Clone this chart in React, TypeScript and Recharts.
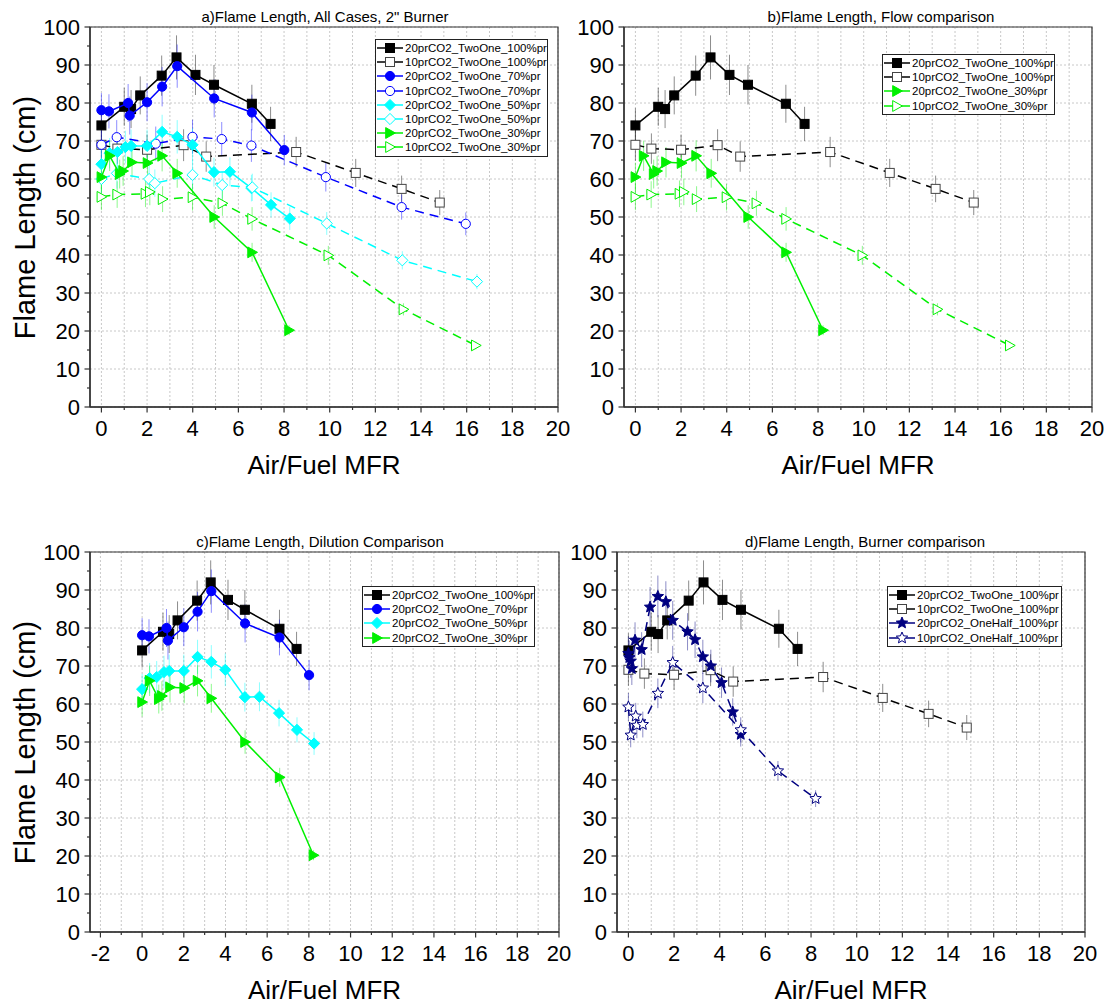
import React from "react";
import {
  ScatterChart,
  Scatter,
  XAxis,
  YAxis,
  CartesianGrid,
  ErrorBar,
  ReferenceArea,
} from "recharts";

const FONT = "Arial, 'Liberation Sans', Helvetica, sans-serif";
const AXIS = "#333333";

// tick values
const X_TICKS = [0, 1, 2, 3, 4, 5, 6, 7, 8, 9, 10, 11, 12, 13, 14, 15, 16, 17, 18, 19, 20];
const X_TICKS_C = [-2, -1, 0, 1, 2, 3, 4, 5, 6, 7, 8, 9, 10, 11, 12, 13, 14, 15, 16, 17, 18, 19, 20];
const Y_TICKS = [0, 5, 10, 15, 20, 25, 30, 35, 40, 45, 50, 55, 60, 65, 70, 75, 80, 85, 90, 95, 100];
const Y_GRID = [0, 10, 20, 30, 40, 50, 60, 70, 80, 90, 100];

// 20prCO2_TwoOne_100%pr
const x20_100 = [0, 1.0, 1.3, 1.7, 2.64, 3.29, 4.12, 4.93, 6.59, 7.41];
const y20_100 = [74.1, 79.0, 78.4, 82.0, 87.2, 92.0, 87.4, 84.8, 79.8, 74.5];
const e20_100 = [4.5, 5, 5, 5, 5.3, 5.8, 5.3, 5.2, 5, 4.5];

// 10prCO2_TwoOne_100%pr
const x10_100 = [0, 0.7, 2.0, 3.6, 4.59, 8.53, 11.14, 13.15, 14.82];
const y10_100 = [69.0, 68.0, 67.7, 68.9, 65.9, 67.1, 61.6, 57.4, 53.8];
const e10_100 = [4.2, 4, 4, 4.2, 4, 4, 3.7, 3.5, 3.3];

// 20prCO2_TwoOne_70%pr
const x20_70 = [0, 0.33, 1.17, 1.24, 2.0, 2.66, 3.32, 4.94, 6.59, 8.01];
const y20_70 = [78.1, 77.8, 80.0, 76.7, 80.2, 84.3, 89.7, 81.2, 77.5, 67.6];
const e20_70 = [4.5, 4.5, 5, 5, 5, 5.2, 5.7, 5, 4.7, 4];

// 10prCO2_TwoOne_70%pr
const x10_70 = [0, 0.67, 2.38, 3.99, 5.27, 6.57, 9.83, 13.15, 15.96];
const y10_70 = [69.0, 71.0, 69.3, 71.1, 70.5, 68.8, 60.5, 52.6, 48.2];
const e10_70 = [4, 4.5, 4.5, 4.5, 4.5, 4.3, 3.8, 3.3, 3];

// 20prCO2_TwoOne_50%pr
const x20_50 = [0, 0.36, 0.7, 1.05, 1.3, 2.0, 2.66, 3.32, 3.99, 4.93, 5.63, 6.57, 7.43, 8.25];
const y20_50 = [63.9, 66.8, 67.1, 68.4, 68.7, 68.7, 72.4, 71.1, 69.0, 61.8, 61.9, 57.6, 53.2, 49.6];
const e20_50 = [4, 4, 4.2, 4.3, 4.3, 4.3, 4.5, 4.4, 4.3, 3.8, 3.8, 3.5, 3.3, 3];

// 10prCO2_TwoOne_50%pr
const x10_50 = [0, 0.68, 2.09, 2.34, 3.99, 5.29, 6.61, 9.87, 13.18, 16.45];
const y10_50 = [60.0, 61.5, 60.0, 58.9, 61.1, 58.4, 57.8, 48.3, 38.6, 33.0];
const e10_50 = [3.8, 4, 3.8, 3.6, 3.8, 3.6, 3.6, 3, 2.4, 2];

// 20prCO2_TwoOne_30%pr
const x20_30 = [0, 0.36, 0.8, 0.95, 1.34, 2.02, 2.66, 3.32, 4.94, 6.6, 8.22];
const y20_30 = [60.5, 66.1, 61.3, 62.1, 64.4, 64.2, 66.1, 61.5, 50.0, 40.7, 20.2];
const e20_30 = [3.8, 4, 3.8, 3.9, 4, 4, 4.1, 3.8, 3.1, 2.5, 1.3];

// 10prCO2_TwoOne_30%pr
const x10_30 = [0, 0.69, 1.93, 2.12, 2.68, 3.99, 5.3, 6.6, 9.94, 13.23, 16.4];
const y10_30 = [55.3, 55.9, 56.1, 56.6, 54.7, 55.2, 53.6, 49.5, 39.9, 25.7, 16.2];
const e10_30 = [3.5, 3.5, 3.5, 3.5, 3.4, 3.5, 3.3, 3.1, 2.5, 1.6, 1];

// 20prCO2_OneHalf_100%pr
const x20_oh = [0, 0.04, 0.1, 0.15, 0.29, 0.58, 0.95, 1.29, 1.64, 1.94, 2.59, 2.92, 3.26, 3.61, 4.08, 4.57, 4.92];
const y20_oh = [73.3, 72.2, 71.3, 69.3, 76.8, 74.3, 85.5, 88.3, 86.9, 82.0, 79.0, 76.9, 72.4, 70.0, 65.6, 57.9, 52.0];
const e20_oh = [4.5, 4.5, 4.4, 4.3, 4.7, 4.6, 5.3, 5.5, 5.4, 5.1, 4.9, 4.8, 4.5, 4.3, 4, 3.6, 3.2];

// 10prCO2_OneHalf_100%pr
const x10_oh = [0, 0.1, 0.32, 0.37, 0.63, 1.29, 1.94, 3.26, 4.92, 6.55, 8.2];
const y10_oh = [59.2, 51.8, 56.8, 54.4, 54.6, 62.8, 70.9, 64.2, 53.2, 42.4, 35.1];
const e10_oh = [3.7, 3.2, 3.5, 3.4, 3.4, 3.9, 4.4, 4, 3.3, 2.6, 2.2];

type Kind = "square" | "circle" | "diamond" | "triangle" | "star";
type Series = {
  name: string;
  color: string;
  kind: Kind;
  open: boolean;
  dashed: boolean;
  x: number[];
  y: number[];
  e: number[];
};

const S20_100: Series = { name: "20prCO2_TwoOne_100%pr", color: "#000000", kind: "square", open: false, dashed: false, x: x20_100, y: y20_100, e: e20_100 };
const S10_100: Series = { name: "10prCO2_TwoOne_100%pr", color: "#000000", kind: "square", open: true, dashed: true, x: x10_100, y: y10_100, e: e10_100 };
const S20_70: Series = { name: "20prCO2_TwoOne_70%pr", color: "#0000ff", kind: "circle", open: false, dashed: false, x: x20_70, y: y20_70, e: e20_70 };
const S10_70: Series = { name: "10prCO2_TwoOne_70%pr", color: "#0000ff", kind: "circle", open: true, dashed: true, x: x10_70, y: y10_70, e: e10_70 };
const S20_50: Series = { name: "20prCO2_TwoOne_50%pr", color: "#00ffff", kind: "diamond", open: false, dashed: false, x: x20_50, y: y20_50, e: e20_50 };
const S10_50: Series = { name: "10prCO2_TwoOne_50%pr", color: "#00ffff", kind: "diamond", open: true, dashed: true, x: x10_50, y: y10_50, e: e10_50 };
const S20_30: Series = { name: "20prCO2_TwoOne_30%pr", color: "#00f000", kind: "triangle", open: false, dashed: false, x: x20_30, y: y20_30, e: e20_30 };
const S10_30: Series = { name: "10prCO2_TwoOne_30%pr", color: "#00f000", kind: "triangle", open: true, dashed: true, x: x10_30, y: y10_30, e: e10_30 };
const S20_OH: Series = { name: "20prCO2_OneHalf_100%pr", color: "#000080", kind: "star", open: false, dashed: true, x: x20_oh, y: y20_oh, e: e20_oh };
const S10_OH: Series = { name: "10prCO2_OneHalf_100%pr", color: "#000080", kind: "star", open: true, dashed: true, x: x10_oh, y: y10_oh, e: e10_oh };

const rows = (s: Series) => s.x.map((x, i) => ({ x, y: s.y[i], e: s.e[i] }));

function starPoints(cx: number, cy: number, R: number, r: number) {
  const pts: string[] = [];
  for (let i = 0; i < 10; i++) {
    const rad = i % 2 === 0 ? R : r;
    const a = -Math.PI / 2 + (i * Math.PI) / 5;
    pts.push(`${cx + rad * Math.cos(a)},${cy + rad * Math.sin(a)}`);
  }
  return pts.join(" ");
}

function Marker({ kind, cx, cy, color, open }: { kind: Kind; cx: number; cy: number; color: string; open: boolean }) {
  if (cx == null || cy == null) return null;
  const fill = open ? "#ffffff" : color;
  const stroke = kind === "square" && open ? "#444444" : color;
  const common = { fill, stroke, strokeWidth: 1 };
  switch (kind) {
    case "square":
      return <rect x={cx - 4.5} y={cy - 4.5} width={9} height={9} {...common} />;
    case "circle":
      return <circle cx={cx} cy={cy} r={4.6} {...common} />;
    case "diamond": {
      const r = 5.6;
      return <polygon points={`${cx},${cy - r} ${cx + r},${cy} ${cx},${cy + r} ${cx - r},${cy}`} {...common} />;
    }
    case "triangle": {
      const r = 5.4;
      return <polygon points={`${cx - r * 0.8},${cy - r} ${cx + r},${cy} ${cx - r * 0.8},${cy + r}`} {...common} />;
    }
    default:
      return <polygon points={starPoints(cx, cy, 6, 2.7)} {...common} />;
  }
}

const XTick = (p: any) => {
  const { x, y, payload } = p;
  const v = payload.value;
  const major = v % 2 === 0;
  return (
    <g>
      <line x1={x} x2={x} y1={y} y2={y + (major ? 5.5 : 3)} stroke={AXIS} strokeWidth={1.2} />
      {major && (
        <text x={x} y={y + 29} textAnchor="middle" fontSize={22} fill="#000" fontFamily={FONT}>
          {v}
        </text>
      )}
    </g>
  );
};

const YTick = (p: any) => {
  const { x, y, payload } = p;
  const v = payload.value;
  const major = v % 10 === 0;
  return (
    <g>
      <line x1={x} x2={x - (major ? 5.5 : 3)} y1={y} y2={y} stroke={AXIS} strokeWidth={1.2} />
      {major && (
        <text x={x - 10} y={y + 7.8} textAnchor="end" fontSize={22} fill="#000" fontFamily={FONT}>
          {v}
        </text>
      )}
    </g>
  );
};

function Panel({ left, top, width, xMin, xTicks, series }: { left: number; top: number; width: number; xMin: number; xTicks: number[]; series: Series[] }) {
  return (
    <div style={{ position: "absolute", left, top }}>
      <ScatterChart width={width} height={470} margin={{ top: 20, right: 16, bottom: 0, left: 0 }}>
        <CartesianGrid stroke="#c8c8c8" strokeDasharray="2 2" verticalValues={xTicks} horizontalValues={Y_GRID} />
        <XAxis
          type="number"
          dataKey="x"
          domain={[xMin, 20]}
          ticks={xTicks}
          interval={0}
          allowDataOverflow
          height={70}
          tickSize={0}
          tickMargin={0}
          tickLine={false}
          tick={XTick}
          axisLine={{ stroke: AXIS, strokeWidth: 1.5 }}
        />
        <YAxis
          type="number"
          dataKey="y"
          domain={[0, 100]}
          ticks={Y_TICKS}
          interval={0}
          allowDataOverflow
          width={70}
          tickSize={0}
          tickMargin={0}
          tickLine={false}
          tick={YTick}
          axisLine={{ stroke: AXIS, strokeWidth: 1.5 }}
        />
        <ReferenceArea x1={xMin} x2={20} y1={0} y2={100} fill="none" stroke={AXIS} strokeWidth={1.2} />
        {series.map((s) => (
          <Scatter
            key={s.name}
            name={s.name}
            data={rows(s)}
            isAnimationActive={false}
            line={{ stroke: s.color, strokeWidth: 1.5, strokeDasharray: s.dashed ? "9 6" : undefined }}
            lineJointType="linear"
            shape={(p: any) => <Marker kind={s.kind} cx={p.cx} cy={p.cy} color={s.color} open={s.open} />}
          >
            <ErrorBar dataKey="e" direction="y" width={0} stroke={s.color} strokeOpacity={0.45} strokeWidth={1} isAnimationActive={false} />
          </Scatter>
        ))}
      </ScatterChart>
    </div>
  );
}

function Caption({ cx, cy, size, text, rotate }: { cx: number; cy: number; size: number; text: string; rotate?: boolean }) {
  return (
    <div
      style={{
        position: "absolute",
        left: cx - 300,
        top: cy - size / 2,
        width: 600,
        height: size,
        lineHeight: `${size}px`,
        fontSize: size,
        textAlign: "center",
        whiteSpace: "nowrap",
        color: "#000",
        transform: rotate ? "rotate(-90deg)" : undefined,
      }}
    >
      {text}
    </div>
  );
}

function LegendBox({ left, top, width, series }: { left: number; top: number; width: number; series: Series[] }) {
  return (
    <div
      style={{
        position: "absolute",
        left,
        top,
        width,
        border: "1px solid #222",
        background: "#fff",
        padding: "1px 0",
        boxSizing: "border-box",
      }}
    >
      {series.map((s) => (
        <div key={s.name} style={{ height: 14.2, display: "flex", alignItems: "center", fontSize: 11.5, whiteSpace: "nowrap" }}>
          <svg width={29} height={14} style={{ flex: "none" }}>
            <line x1={1} x2={27} y1={7} y2={7} stroke={s.color} strokeWidth={1.5} />
            <Marker kind={s.kind} cx={14} cy={7} color={s.color} open={s.open} />
          </svg>
          <span>{s.name}</span>
        </div>
      ))}
    </div>
  );
}

export default function App() {
  const allA = [S20_100, S10_100, S20_70, S10_70, S20_50, S10_50, S20_30, S10_30];
  const flowB = [S20_100, S10_100, S20_30, S10_30];
  const dilC = [S20_100, S20_70, S20_50, S20_30];
  const burnD = [S20_100, S10_100, S20_OH, S10_OH];
  return (
    <div
      style={{
        position: "absolute",
        left: 0,
        top: 0,
        width: 1110,
        height: 1003,
        overflow: "hidden",
        background: "#fff",
        fontFamily: FONT,
      }}
    >
      <Panel left={20} top={7} width={554} xMin={-0.5} xTicks={X_TICKS} series={allA} />
      <Panel left={554} top={7} width={554} xMin={-0.5} xTicks={X_TICKS} series={flowB} />
      <Panel left={20} top={532} width={555} xMin={-2.5} xTicks={X_TICKS_C} series={dilC} />
      <Panel left={547} top={532} width={554} xMin={-0.5} xTicks={X_TICKS} series={burnD} />

      <Caption cx={325} cy={16.7} size={15} text={'a)Flame Length, All Cases, 2" Burner'} />
      <Caption cx={881} cy={16.7} size={15} text="b)Flame Length, Flow comparison" />
      <Caption cx={320} cy={541.7} size={15} text="c)Flame Length, Dilution Comparison" />
      <Caption cx={865} cy={541.7} size={15} text="d)Flame Length, Burner comparison" />

      <Caption cx={324} cy={464.5} size={26} text="Air/Fuel MFR" />
      <Caption cx={858} cy={464.5} size={26} text="Air/Fuel MFR" />
      <Caption cx={324.5} cy={989.5} size={26} text="Air/Fuel MFR" />
      <Caption cx={851} cy={989.5} size={26} text="Air/Fuel MFR" />

      <Caption cx={25} cy={217} size={29} text="Flame Length (cm)" rotate />
      <Caption cx={25} cy={742} size={29} text="Flame Length (cm)" rotate />

      <LegendBox left={375} top={39} width={173} series={allA} />
      <LegendBox left={882} top={54} width={173} series={flowB} />
      <LegendBox left={362} top={586} width={173} series={dilC} />
      <LegendBox left={887} top={586} width={175} series={burnD} />
    </div>
  );
}
